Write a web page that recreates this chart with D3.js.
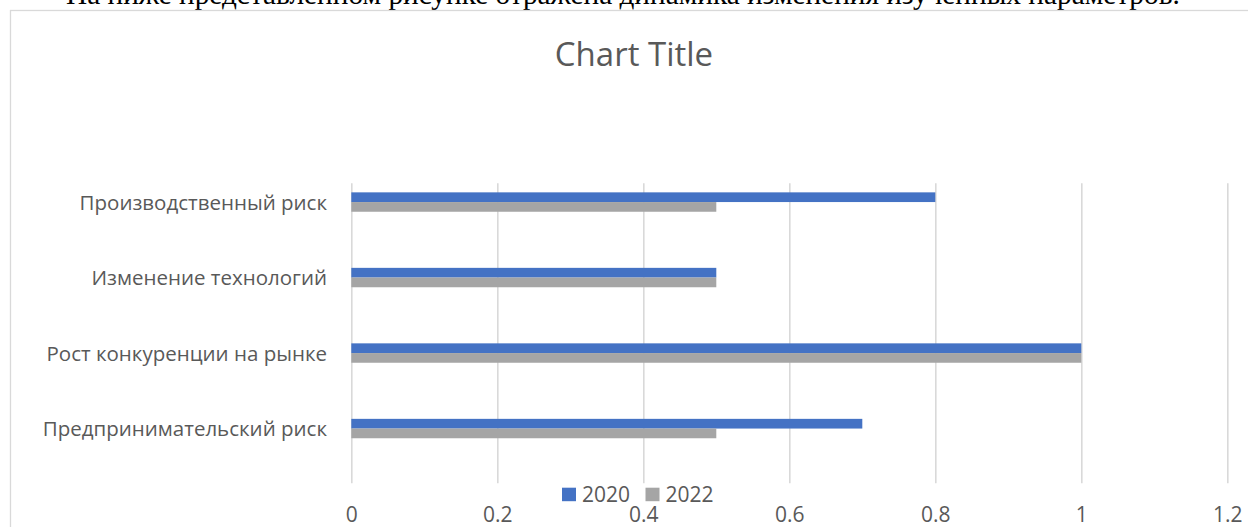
<!DOCTYPE html>
<html>
<head>
<meta charset="utf-8">
<script src="https://cdn.jsdelivr.net/npm/d3@7"></script>
<style>
  html, body { margin: 0; padding: 0; background: #ffffff; overflow: hidden; }
  svg { display: block; }
</style>
</head>
<body>
<script>
// Risk factors, listed in the sheet's order (first one is drawn at the bottom)
const categories = [
  "Предпринимательский риск",
  "Рост конкуренции на рынке",
  "Изменение технологий",
  "Производственный риск"
];
const seriesNames = ["2020", "2022"];
const values2020 = [0.7, 1, 0.5, 0.8];
const values2022 = [0.5, 1, 0.5, 0.5];
const tickValues = [0, 0.2, 0.4, 0.6, 0.8, 1, 1.2];
const tickLabels = ["0", "0.2", "0.4", "0.6", "0.8", "1", "1.2"];
const seriesColors = ["#4472C4", "#A5A5A5"];

const W = 1248, H = 527;
const textColor = "#595959";
const gridColor = "#D9D9D9";
const chartFont = "'Open Sans', sans-serif";

const svg = d3.select("body").append("svg")
  .attr("width", W).attr("height", H);

// Sentence from the surrounding document, cut by the top edge
svg.append("text")
  .attr("x", 66).attr("y", 4)
  .attr("font-family", "'Liberation Serif', 'Times New Roman', serif")
  .attr("font-size", 29.3)
  .attr("fill", "#000")
  .text("На ниже представленном рисунке отражена динамика изменения изученных параметров.");

// Chart frame
svg.append("rect")
  .attr("x", 10.5).attr("y", 10.5)
  .attr("width", W + 20).attr("height", H + 20)
  .attr("fill", "#fff")
  .attr("stroke", gridColor).attr("stroke-width", 1.3);

// Title
svg.append("text")
  .attr("x", 634).attr("y", 66)
  .attr("text-anchor", "middle")
  .attr("font-family", chartFont)
  .attr("font-size", 33)
  .attr("fill", textColor)
  .text("Chart Title");

// Scales
const x = d3.scaleLinear().domain([0, 1.2]).range([351.3, 1227.3]);
const y = d3.scaleBand()
  .domain(categories.slice().reverse())
  .range([164.3, 466.3]);
const groupH = 19.4;
const ySub = d3.scaleBand().domain(seriesNames).range([0, groupH]);

// Vertical gridlines and value labels
const gridTop = 183.3, gridBottom = 483.3;
const xAxis = d3.axisBottom(x)
  .tickValues(tickValues)
  .tickFormat((d, i) => tickLabels[i])
  .tickSizeInner(-(gridBottom - gridTop))
  .tickSizeOuter(0);

const gx = svg.append("g")
  .attr("transform", `translate(0,${gridBottom})`)
  .call(xAxis);
gx.select(".domain").remove();
gx.selectAll(".tick line")
  .attr("stroke", gridColor).attr("stroke-width", 1.6);
gx.selectAll(".tick text")
  .attr("y", 39).attr("dy", 0)
  .attr("fill", textColor)
  .attr("font-family", chartFont)
  .attr("font-size", 21);

// Category labels
svg.append("g").selectAll("text")
  .data(categories)
  .join("text")
  .attr("x", 327)
  .attr("y", d => y(d) + y.bandwidth() / 2 + 7.5)
  .attr("text-anchor", "end")
  .attr("font-family", chartFont)
  .attr("font-size", 20.5)
  .attr("fill", textColor)
  .text(d => d);

// Bars
const rows = categories.map((c, i) => ({
  category: c,
  values: [
    { series: seriesNames[0], value: values2020[i], color: seriesColors[0] },
    { series: seriesNames[1], value: values2022[i], color: seriesColors[1] }
  ]
}));

svg.append("g").selectAll("g")
  .data(rows)
  .join("g")
  .attr("transform", d => `translate(0,${y(d.category) + (y.bandwidth() - groupH) / 2})`)
  .selectAll("rect")
  .data(d => d.values)
  .join("rect")
  .attr("x", x(0))
  .attr("y", d => ySub(d.series))
  .attr("width", d => x(d.value) - x(0))
  .attr("height", ySub.bandwidth())
  .attr("fill", d => d.color);

// Legend
const legendItems = [
  { name: seriesNames[0], color: seriesColors[0], x: 562 },
  { name: seriesNames[1], color: seriesColors[1], x: 645.5 }
];
const lg = svg.append("g").selectAll("g")
  .data(legendItems)
  .join("g")
  .attr("transform", d => `translate(${d.x},487.7)`);
lg.append("rect")
  .attr("width", 14).attr("height", 13.5)
  .attr("fill", d => d.color);
lg.append("text")
  .attr("x", 20).attr("y", 14)
  .attr("font-family", chartFont)
  .attr("font-size", 21)
  .attr("fill", textColor)
  .text(d => d.name);
</script>
</body>
</html>
